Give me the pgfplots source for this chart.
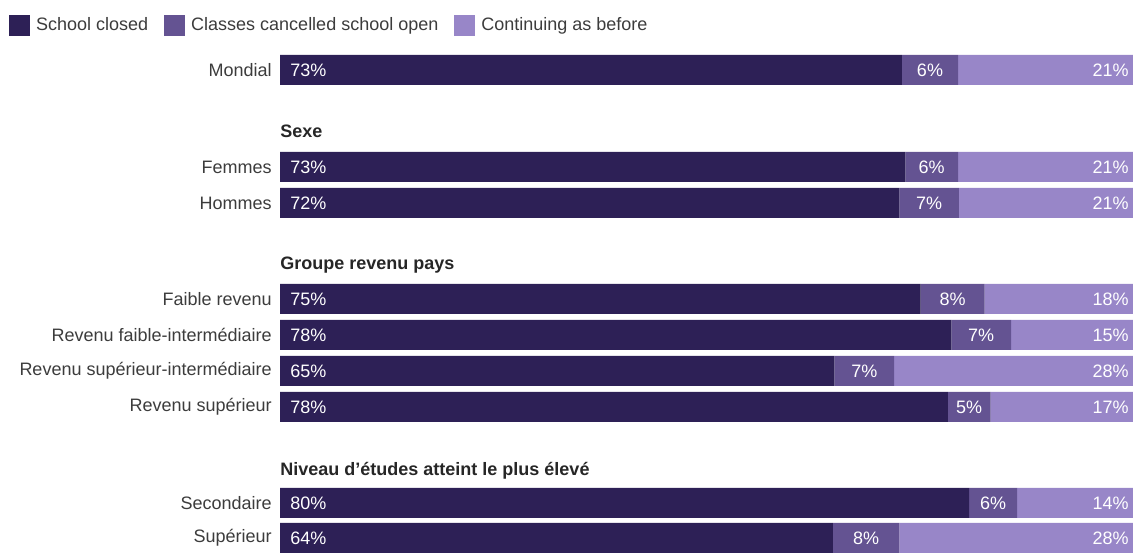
\documentclass[border=0pt]{standalone}
\usepackage{fontspec}
\setmainfont{Liberation Sans}
\usepackage{pgfplots}
\usepackage{pgfplotstable}
\pgfplotsset{compat=1.18}

\definecolor{closed}{RGB}{45,32,86}
\definecolor{cancel}{RGB}{100,83,146}
\definecolor{cont}{RGB}{152,134,200}
\definecolor{lbl}{RGB}{60,60,60}

% y = row position, then segment widths and printed labels
\pgfplotstableread{
y   closed cancel cont lclosed lcancel lcont
70  72.9   6.6    20.5 73      6       21
167 73.3   6.2    20.5 73      6       21
203 72.6   7.0    20.4 72      7       21
299 75.1   7.5    17.4 75      8       18
335 78.7   7.0    14.3 78      7       15
371 65.0   7.0    28.0 65      7       28
407 78.3   5.0    16.7 78      5       17
503 80.8   5.6    13.6 80      6       14
538 64.8   7.8    27.4 64      8       28
}\data

\newcommand\txt{\fontsize{9}{11}\selectfont}

\begin{document}
\begin{tikzpicture}
\pgfplotsset{
  base/.style={
    scale only axis, width=426.5pt, height=256pt,
    xmin=0, xmax=100, ymin=40, ymax=552, y dir=reverse,
    clip=false,
  },
  vlabel/.style={draw=none, nodes near coords={\pgfplotspointmeta\%},
    point meta=explicit symbolic,
    every node near coord/.append style={inner sep=0pt, text=white, font=\txt, #1}},
}
\begin{axis}[base,
  xbar stacked, bar width=30,
  axis line style={draw=none}, tick style={draw=none},
  xtick=\empty,
  ytick={70,167,203,299,335,371,407,503,538},
  yticklabels={Mondial,Femmes,Hommes,Faible revenu,Revenu faible-intermédiaire,Revenu supérieur-intermédiaire,Revenu supérieur,Secondaire,Supérieur},
  yticklabel style={font=\txt, text=lbl, inner sep=0pt, xshift=-4pt},
  legend columns=3,
  legend image code/.code={\fill[#1] (0pt,-5.25pt) rectangle (10.5pt,5.25pt);},
  legend style={draw=none, fill=none, font=\txt, text=lbl, inner sep=0pt,
    at={(axis description cs:-0.318,1.029)}, anchor=west,
    nodes={inner sep=1.5pt},
    /tikz/every odd column/.append style={column sep=1.5pt},
    /tikz/every even column/.append style={column sep=6.5pt}},
]
\addplot[fill=closed, draw=none] table[x=closed, y=y]{\data};
\addplot[fill=cancel, draw=none] table[x=cancel, y=y]{\data};
\addplot[fill=cont, draw=none] table[x=cont, y=y]{\data};
\legend{School closed, Classes cancelled school open, Continuing as before}

\node[anchor=west, inner sep=0pt, font=\bfseries\txt, text=black!85] at (axis cs:0,131) {Sexe};
\node[anchor=west, inner sep=0pt, font=\bfseries\txt, text=black!85] at (axis cs:0,265) {Groupe revenu pays};
\node[anchor=west, inner sep=0pt, font=\bfseries\txt, text=black!85] at (axis cs:0,471) {Niveau d’études atteint le plus élevé};

\path (axis description cs:-0.3283,1.078) rectangle (axis description cs:1,0);
\end{axis}

\begin{axis}[base, hide axis]
\addplot[vlabel={anchor=west, xshift=5pt}] table[x expr=0, y=y, meta=lclosed]{\data};
\addplot[vlabel={anchor=center}] table[x expr=\thisrow{closed}+0.5*\thisrow{cancel}, y=y, meta=lcancel]{\data};
\addplot[vlabel={anchor=east, xshift=-2pt}] table[x expr=100, y=y, meta=lcont]{\data};
\end{axis}
\end{tikzpicture}
\end{document}
